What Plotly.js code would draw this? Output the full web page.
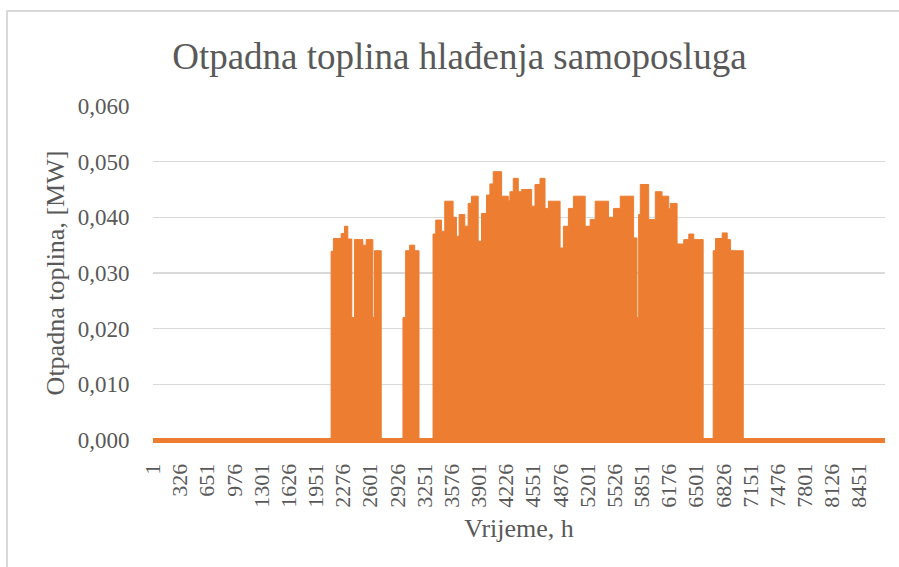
<!DOCTYPE html>
<html>
<head>
<meta charset="utf-8">
<script src="https://cdn.plot.ly/plotly-3.0.1.min.js"></script>
<style>
  html, body { margin: 0; padding: 0; background: #fff; }
  #wrap { position: relative; width: 899px; height: 567px; overflow: hidden; }
  #chart { position: absolute; left: 0; top: 0; width: 899px; height: 567px; }
  #frame { position: absolute; left: 6px; top: 10px; width: 910px; height: 600px;
           border: 2px solid #d9d9d9; box-sizing: border-box; pointer-events: none; }
</style>
</head>
<body>
<div id="wrap">
  <div id="chart"></div>
  <div id="frame"></div>
</div>
<script>
// Hour at which each level starts and its level in MW
const hourStart = [2132, 2160, 2252, 2292, 2332, 2380, 2412, 2512, 2552, 2632, 2652, 2732,
  2992, 3024, 3072, 3132, 3184,
  3352, 3384, 3452, 3492, 3592, 3632, 3664, 3732, 3772, 3812, 3892, 3932, 3992, 4032, 4072,
  4172, 4252, 4272, 4312, 4372, 4412, 4532, 4572, 4632, 4692, 4732, 4872, 4912, 4972, 5032,
  5172, 5232, 5292, 5452, 5512, 5592, 5752, 5792, 5812, 5832, 5932, 6012, 6092, 6172, 6192,
  6272, 6352, 6412, 6472, 6584,
  6704, 6732, 6812, 6872, 6912, 7064];
const heatMW = [0.0339, 0.0362, 0.0371, 0.0384, 0.0361, 0.0220, 0.0360, 0.0350, 0.0360, 0.0220, 0.0340, 0,
  0.0220, 0.0340, 0.0350, 0.0340, 0,
  0.0370, 0.0395, 0.0375, 0.0429, 0.0400, 0.0366, 0.0405, 0.0384, 0.0425, 0.0438, 0.0357, 0.0407, 0.0440, 0.0460, 0.0482,
  0.0438, 0.0430, 0.0446, 0.0470, 0.0446, 0.0450, 0.0420, 0.0459, 0.0470, 0.0416, 0.0429, 0.0345, 0.0384, 0.0416, 0.0438,
  0.0384, 0.0396, 0.0429, 0.0400, 0.0416, 0.0438, 0.0363, 0.0220, 0.0405, 0.0459, 0.0396, 0.0446, 0.0438, 0.0416, 0.0425,
  0.0352, 0.0360, 0.0370, 0.0360, 0,
  0.0340, 0.0362, 0.0372, 0.0360, 0.0340, 0];
const firstHour = 1;
const lastHour = 8760;
const tickHours = [1, 326, 651, 976, 1301, 1626, 1951, 2276, 2601, 2926, 3251, 3576, 3901,
  4226, 4551, 4876, 5201, 5526, 5851, 6176, 6501, 6826, 7151, 7476, 7801, 8126, 8451];
const tickLabels = tickHours.map(String);
const yTicks = [0, 0.01, 0.02, 0.03, 0.04, 0.05, 0.06];

const orange = '#ED7D31';
const grey = '#595959';
const font = 'Liberation Serif, Times New Roman, serif';

const trace = {
  type: 'scatter',
  mode: 'lines',
  x: [firstHour].concat(hourStart, [lastHour]),
  y: [0].concat(heatMW, [0]),
  line: { shape: 'hv', color: orange, width: 1 },
  fill: 'tozeroy',
  fillcolor: orange,
  hoverinfo: 'x+y'
};

const layout = {
  width: 899, height: 567,
  margin: { l: 153, r: 14, t: 106, b: 127 },
  paper_bgcolor: '#ffffff',
  plot_bgcolor: '#ffffff',
  separators: ',.',
  showlegend: false,
  font: { family: font, color: grey },
  title: {
    text: 'Otpadna toplina hlađenja samoposluga',
    font: { family: font, size: 37, color: grey },
    xref: 'container', yref: 'container',
    x: 0.511, xanchor: 'center',
    y: 1 - 56 / 567, yanchor: 'middle'
  },
  xaxis: {
    range: [firstHour, lastHour],
    tickmode: 'array',
    tickvals: tickHours,
    ticktext: tickLabels,
    tickangle: -90,
    tickfont: { family: font, size: 22, color: grey },
    ticks: 'outside', ticklen: 14, tickcolor: 'rgba(0,0,0,0)',
    showgrid: false, zeroline: false, showline: false,
    title: { text: 'Vrijeme, h', font: { family: font, size: 26, color: grey }, standoff: 12 },
    automargin: false, fixedrange: true
  },
  yaxis: {
    range: [0, 0.06],
    tickmode: 'array',
    tickvals: yTicks,
    tickformat: '.3f',
    tickfont: { family: font, size: 23, color: grey },
    ticks: 'outside', ticklen: 18, tickcolor: 'rgba(0,0,0,0)',
    showgrid: true, gridcolor: '#d9d9d9', gridwidth: 1.5,
    zeroline: true, zerolinecolor: orange, zerolinewidth: 5,
    showline: false,
    title: { text: 'Otpadna toplina, [MW]', font: { family: font, size: 26, color: grey }, standoff: 5 },
    automargin: false, fixedrange: true
  }
};

Plotly.newPlot('chart', [trace], layout, { displayModeBar: false, staticPlot: true });
</script>
</body>
</html>
